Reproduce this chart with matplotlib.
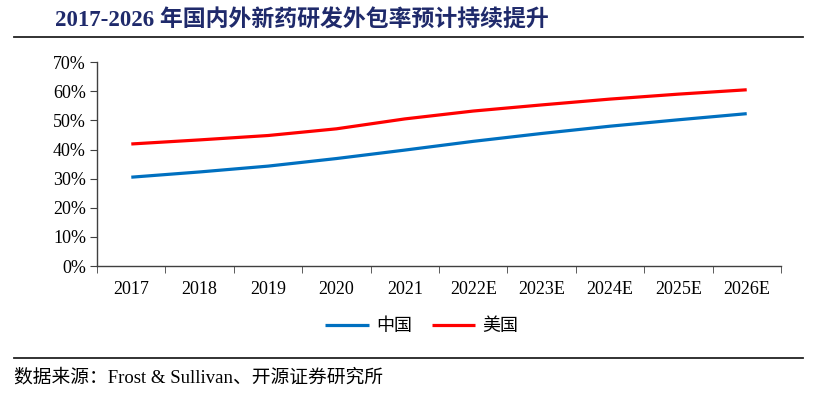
import matplotlib.pyplot as plt
from matplotlib.ticker import FixedLocator, PercentFormatter

plt.rcParams['font.family'] = ['Liberation Serif', 'Noto Sans CJK SC']

years = ['2017', '2018', '2019', '2020', '2021', '2022E', '2023E', '2024E', '2025E', '2026E']
china = [30.5, 32.3, 34.3, 36.9, 39.8, 42.8, 45.5, 48.0, 50.2, 52.3]
usa = [41.9, 43.3, 44.8, 47.1, 50.5, 53.2, 55.3, 57.3, 59.0, 60.5]

fig = plt.figure(figsize=(8.16, 3.93), dpi=100)
ax = fig.add_axes([0.119, 0.323, 0.838, 0.519])

x = list(range(len(years)))
ax.plot(x, china, color='#0070C0', linewidth=2.3, solid_capstyle='butt', label='中国')
ax.plot(x, usa, color='#FF0000', linewidth=2.3, solid_capstyle='butt', label='美国')

ax.set_xlim(-0.5, len(years) - 0.5)
ax.set_ylim(0, 70)
ax.set_yticks(range(0, 71, 10))
ax.yaxis.set_major_formatter(PercentFormatter(decimals=0))
ax.set_xticks(x)
ax.set_xticklabels(years)
ax.xaxis.set_minor_locator(FixedLocator([i - 0.5 for i in range(len(years) + 1)]))
ax.tick_params(axis='x', which='major', length=0, pad=11, labelsize=13)
ax.tick_params(axis='x', which='minor', length=5, direction='out', color='#404040')
ax.tick_params(axis='y', length=5, direction='out', color='#404040', labelsize=13, pad=3)

for s in ['top', 'right']:
    ax.spines[s].set_visible(False)
for s in ['left', 'bottom']:
    ax.spines[s].set_color('#404040')
    ax.spines[s].set_linewidth(1.0)

fig.legend(loc='center', bbox_to_anchor=(0.517, 0.168), ncol=2, frameon=False,
           fontsize=13, handlelength=2.4, handletextpad=0.4, columnspacing=1.1)

fig.text(0.068, 0.948, '2017-2026 年国内外新药研发外包率预计持续提升', fontsize=16.5,
         fontweight='bold', color='#1F2A6B', va='center', ha='left')
fig.add_artist(plt.Line2D([0.017, 0.984], [0.906, 0.906], color='#222222', linewidth=1.3))
fig.add_artist(plt.Line2D([0.017, 0.984], [0.089, 0.089], color='#222222', linewidth=1.3))
fig.text(0.017, 0.04, '数据来源：Frost & Sullivan、开源证券研究所', fontsize=13.5,
         va='center', ha='left')

fig.savefig('out.png', dpi=100)
